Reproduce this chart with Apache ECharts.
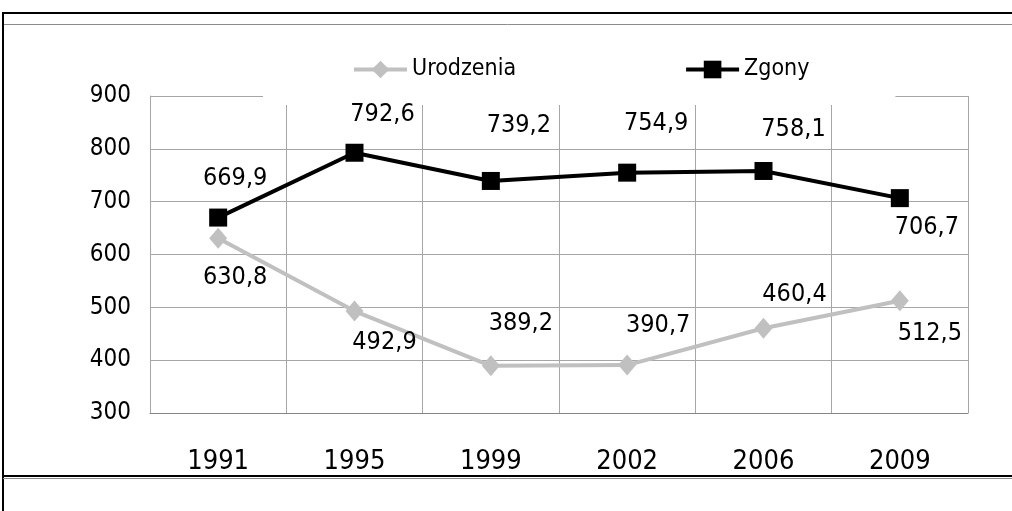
<!DOCTYPE html>
<html><head><meta charset="utf-8">
<script src="https://cdn.jsdelivr.net/npm/echarts@6/dist/echarts.min.js"></script>
<style>html,body{margin:0;padding:0;background:#fff}#c{width:1012px;height:511px}</style>
</head><body><div id="c"></div>
<script>
// ---- data ----
const years = ['1991', '1995', '1999', '2002', '2006', '2009'];
const urodzenia = [630.8, 492.9, 389.2, 390.7, 460.4, 512.5];
const zgony = [669.9, 792.6, 739.2, 754.9, 758.1, 706.7];
const seriesNames = ['Urodzenia', 'Zgony'];
const yMin = 300, yMax = 900, yStep = 100;

// ---- label placement (styling) ----
const urodzeniaLabelOffsets = [[17, 39], [30, 31], [30, -42], [31, -40], [31, -34], [30, 33]];
const zgonyLabelOffsets = [[17, -39], [28, -38], [28, -55], [29, -49], [30, -41], [27, 29]];

const FONT = "'DejaVu Sans Condensed', 'DejaVu Sans', sans-serif";
const fmt = v => v.toFixed(1).replace('.', ',');

function buildData(values, offsets) {
  return values.map((v, i) => ({
    value: v,
    label: { offset: offsets[i] }
  }));
}

const chart = echarts.init(document.getElementById('c'), null, { renderer: 'canvas' });
const option = {
  backgroundColor: '#fff',
  animation: false,
  textStyle: { fontFamily: FONT },
  grid: { left: 150, right: 44, top: 96, bottom: 98, containLabel: false },
  legend: {
    data: seriesNames,
    left: 263, top: 35,
    padding: [23, 86, 24, 89],
    itemGap: 168,
    itemWidth: 53, itemHeight: 22,
    backgroundColor: '#fff',
    lineStyle: { width: 4 },
    textStyle: { fontFamily: FONT, fontSize: 23, color: '#000' }
  },
  xAxis: {
    type: 'category',
    data: years,
    boundaryGap: true,
    axisLine: { show: true, lineStyle: { color: '#868686', width: 1 } },
    axisTick: { show: false },
    axisLabel: { color: '#000', fontFamily: FONT, fontSize: 27, margin: 35 },
    splitLine: { show: true, lineStyle: { color: '#a6a6a6', width: 1 } }
  },
  yAxis: {
    type: 'value',
    min: yMin, max: yMax, interval: yStep,
    axisLine: { show: true, lineStyle: { color: '#a6a6a6', width: 1 } },
    axisTick: { show: false },
    axisLabel: { color: '#000', fontFamily: FONT, fontSize: 24, margin: 19 },
    splitLine: { show: true, lineStyle: { color: '#a6a6a6', width: 1 } }
  },
  series: [
    {
      name: seriesNames[0],
      type: 'line',
      data: buildData(urodzenia, urodzeniaLabelOffsets),
      symbol: 'diamond',
      symbolSize: [18, 21],
      lineStyle: { color: '#c0c0c0', width: 4 },
      itemStyle: { color: '#c0c0c0' },
      label: {
        show: true, position: 'inside', color: '#000',
        fontFamily: FONT, fontSize: 25,
        formatter: p => fmt(p.value)
      },
      z: 3
    },
    {
      name: seriesNames[1],
      type: 'line',
      data: buildData(zgony, zgonyLabelOffsets),
      symbol: 'rect',
      symbolSize: 18,
      lineStyle: { color: '#000', width: 4 },
      itemStyle: { color: '#000' },
      label: {
        show: true, position: 'inside', color: '#000',
        fontFamily: FONT, fontSize: 25,
        formatter: p => fmt(p.value)
      },
      z: 4
    }
  ],
  graphic: [
    { type: 'line', shape: { x1: 2, y1: 13, x2: 1012, y2: 13 }, style: { stroke: '#000', lineWidth: 2 }, z: 100 },
    { type: 'line', shape: { x1: 3, y1: 24.5, x2: 1012, y2: 24.5 }, style: { stroke: '#8c8c8c', lineWidth: 1 }, z: 100 },
    { type: 'line', shape: { x1: 3, y1: 12, x2: 3, y2: 511 }, style: { stroke: '#000', lineWidth: 2 }, z: 100 },
    { type: 'line', shape: { x1: 2, y1: 476, x2: 1012, y2: 476 }, style: { stroke: '#000', lineWidth: 2 }, z: 100 },
    { type: 'line', shape: { x1: 3, y1: 478.5, x2: 1012, y2: 478.5 }, style: { stroke: '#8c8c8c', lineWidth: 1 }, z: 100 }
  ]
};
chart.setOption(option);
</script>
</body></html>
